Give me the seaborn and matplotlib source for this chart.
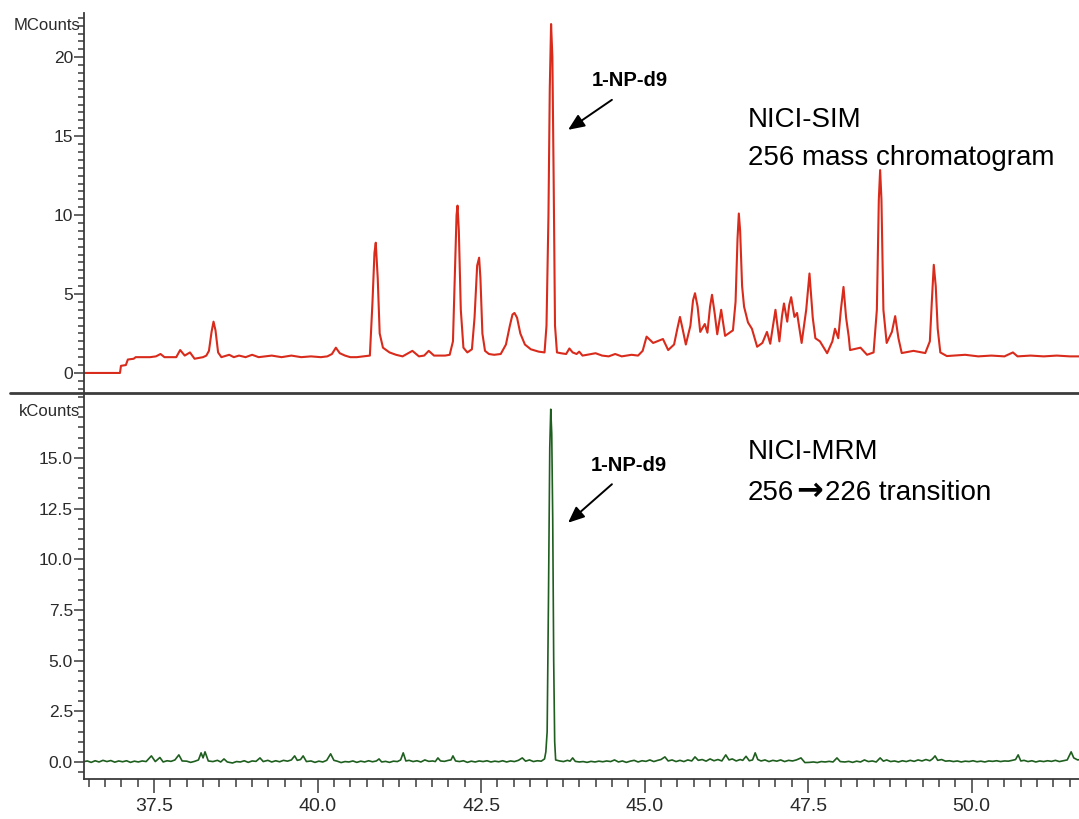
import matplotlib
matplotlib.use("Agg")
import matplotlib.pyplot as plt
from matplotlib.lines import Line2D
from matplotlib.ticker import MultipleLocator, FormatStrFormatter
import pandas as pd
import seaborn as sns

# NICI-SIM, m/z 256 mass chromatogram (retention time in min, signal in MCounts)
sim_time = [
    36.40, 36.98, 36.995, 37.07, 37.10, 37.19, 37.22, 37.44, 37.53, 37.60, 37.66, 37.84,
    37.90, 37.97, 38.05, 38.12, 38.25, 38.30, 38.34, 38.38, 38.41, 38.44, 38.48, 38.53,
    38.65, 38.72, 38.80, 38.90, 39.00, 39.10, 39.30, 39.45, 39.60, 39.75, 39.90, 40.05,
    40.15, 40.22, 40.28, 40.34, 40.42, 40.50, 40.60, 40.80, 40.84, 40.87, 40.89, 40.92,
    40.95, 41.00, 41.10, 41.20, 41.30, 41.45, 41.55, 41.63, 41.70, 41.78, 41.95, 42.02,
    42.07, 42.10, 42.125, 42.14, 42.16, 42.19, 42.23, 42.29, 42.36, 42.40, 42.44, 42.47,
    42.49, 42.52, 42.56, 42.62, 42.70, 42.80, 42.88, 42.94, 42.98, 43.01, 43.05, 43.10,
    43.17, 43.26, 43.38, 43.47, 43.50, 43.53, 43.55, 43.57, 43.59, 43.61, 43.63, 43.66,
    43.72, 43.80, 43.85, 43.90, 43.96, 44.00, 44.05, 44.12, 44.25, 44.35, 44.45, 44.55,
    44.65, 44.80, 44.90, 44.97, 45.03, 45.13, 45.28, 45.36, 45.45, 45.50, 45.54, 45.58,
    45.63, 45.70, 45.74, 45.77, 45.81, 45.85, 45.92, 45.96, 46.00, 46.03, 46.07, 46.11,
    46.17, 46.23, 46.35, 46.39, 46.42, 46.44, 46.46, 46.49, 46.52, 46.58, 46.64, 46.72,
    46.80, 46.87, 46.92, 46.97, 47.00, 47.06, 47.10, 47.13, 47.18, 47.21, 47.24, 47.29,
    47.33, 47.40, 47.47, 47.52, 47.57, 47.61, 47.68, 47.79, 47.87, 47.91, 47.96, 48.00,
    48.04, 48.08, 48.12, 48.14, 48.30, 48.40, 48.50, 48.55, 48.58, 48.60, 48.62, 48.65,
    48.70, 48.78, 48.83, 48.88, 48.93, 49.11, 49.29, 49.36, 49.39, 49.42, 49.45, 49.48,
    49.52, 49.62, 49.90, 50.10, 50.30, 50.50, 50.63, 50.70, 50.90, 51.10, 51.30, 51.50,
    51.70,
]
sim_mcounts = [
    0.00, 0.00, 0.45, 0.50, 0.85, 0.90, 1.00, 1.00, 1.05, 1.20, 1.00, 1.00,
    1.45, 1.10, 1.30, 0.90, 1.00, 1.10, 1.40, 2.60, 3.25, 2.70, 1.30, 1.00,
    1.15, 1.00, 1.10, 1.00, 1.15, 1.00, 1.10, 1.00, 1.10, 1.00, 1.05, 1.00,
    1.05, 1.20, 1.60, 1.25, 1.10, 1.00, 1.00, 1.10, 4.50, 7.60, 8.25, 6.00,
    2.50, 1.60, 1.30, 1.15, 1.05, 1.40, 1.05, 1.10, 1.40, 1.10, 1.10, 1.15,
    2.00, 6.50, 10.00, 10.60, 9.00, 4.00, 1.60, 1.30, 1.50, 3.50, 6.80, 7.30,
    6.00, 2.50, 1.40, 1.20, 1.15, 1.20, 1.80, 3.00, 3.70, 3.80, 3.50, 2.50,
    1.80, 1.50, 1.35, 1.30, 3.00, 10.00, 18.00, 22.10, 20.00, 12.00, 3.00, 1.30,
    1.25, 1.20, 1.55, 1.30, 1.20, 1.35, 1.10, 1.15, 1.25, 1.10, 1.05, 1.20,
    1.05, 1.15, 1.10, 1.40, 2.30, 1.90, 2.15, 1.45, 1.80, 2.80, 3.55, 2.80,
    1.80, 3.00, 4.60, 5.05, 4.20, 2.60, 3.10, 2.55, 4.20, 4.95, 3.80, 2.45,
    4.00, 2.35, 2.70, 4.50, 8.50, 10.10, 9.00, 5.50, 4.20, 3.20, 2.80, 1.66,
    1.90, 2.60, 1.85, 3.20, 4.00, 2.00, 3.60, 4.40, 3.25, 4.30, 4.80, 3.55,
    3.80, 1.90, 4.00, 6.30, 3.50, 2.20, 2.00, 1.25, 2.00, 2.80, 2.20, 4.00,
    5.45, 3.50, 2.30, 1.45, 1.60, 1.15, 1.30, 4.00, 11.00, 12.85, 11.00, 4.00,
    1.90, 2.60, 3.60, 2.20, 1.26, 1.40, 1.26, 2.00, 4.50, 6.85, 5.50, 2.80,
    1.30, 1.07, 1.15, 1.05, 1.10, 1.05, 1.30, 1.05, 1.10, 1.05, 1.10, 1.05,
    1.05,
]

# NICI-MRM, 256 -> 226 transition (retention time in min, signal in kCounts)
mrm_time = [
    36.40, 36.48, 36.54, 36.60, 36.66, 36.72, 36.78, 36.84, 36.90, 36.96, 37.02, 37.08,
    37.14, 37.20, 37.26, 37.32, 37.38, 37.46, 37.52, 37.59, 37.64, 37.70, 37.76, 37.82,
    37.88, 37.93, 38.00, 38.06, 38.12, 38.18, 38.22, 38.25, 38.28, 38.33, 38.40, 38.47,
    38.52, 38.57, 38.62, 38.70, 38.76, 38.82, 38.88, 38.94, 39.00, 39.06, 39.12, 39.17,
    39.24, 39.30, 39.36, 39.42, 39.48, 39.54, 39.60, 39.65, 39.69, 39.74, 39.78, 39.83,
    39.90, 39.96, 40.02, 40.08, 40.14, 40.20, 40.25, 40.30, 40.36, 40.42, 40.48, 40.54,
    40.60, 40.66, 40.72, 40.78, 40.84, 40.90, 40.94, 40.98, 41.04, 41.10, 41.16, 41.22,
    41.27, 41.31, 41.35, 41.40, 41.46, 41.52, 41.58, 41.64, 41.70, 41.76, 41.80, 41.84,
    41.88, 41.94, 42.00, 42.04, 42.07, 42.11, 42.17, 42.23, 42.29, 42.35, 42.41, 42.47,
    42.53, 42.59, 42.65, 42.71, 42.77, 42.83, 42.89, 42.95, 43.01, 43.07, 43.13, 43.18,
    43.24, 43.30, 43.36, 43.42, 43.47, 43.49, 43.51, 43.53, 43.55, 43.565, 43.58, 43.595,
    43.61, 43.625, 43.64, 43.70, 43.76, 43.82, 43.86, 43.90, 43.94, 44.00, 44.06, 44.12,
    44.18, 44.24, 44.30, 44.36, 44.42, 44.48, 44.54, 44.60, 44.66, 44.72, 44.78, 44.84,
    44.90, 44.96, 45.02, 45.08, 45.14, 45.20, 45.25, 45.31, 45.36, 45.42, 45.48, 45.54,
    45.60, 45.66, 45.72, 45.77, 45.82, 45.88, 45.94, 46.00, 46.06, 46.12, 46.18, 46.24,
    46.29, 46.34, 46.40, 46.46, 46.50, 46.55, 46.60, 46.65, 46.69, 46.73, 46.78, 46.84,
    46.90, 46.96, 47.02, 47.08, 47.14, 47.20, 47.26, 47.32, 47.39, 47.45, 47.52, 47.58,
    47.64, 47.70, 47.76, 47.82, 47.88, 47.94, 47.99, 48.06, 48.12, 48.18, 48.24, 48.30,
    48.36, 48.42, 48.48, 48.54, 48.60, 48.65, 48.70, 48.76, 48.82, 48.88, 48.94, 49.00,
    49.06, 49.12, 49.18, 49.24, 49.30, 49.36, 49.40, 49.44, 49.48, 49.54, 49.60, 49.66,
    49.72, 49.78, 49.84, 49.90, 49.96, 50.02, 50.08, 50.14, 50.20, 50.26, 50.32, 50.38,
    50.44, 50.50, 50.56, 50.62, 50.67, 50.71, 50.75, 50.80, 50.86, 50.92, 50.98, 51.04,
    51.10, 51.16, 51.22, 51.28, 51.34, 51.40, 51.46, 51.52, 51.56, 51.62, 51.70,
]
mrm_kcounts = [
    0.00, 0.05, -0.02, 0.06, 0.00, 0.08, 0.02, 0.07, -0.01, 0.05, 0.01, 0.06,
    -0.02, 0.04, 0.00, 0.05, 0.02, 0.30, 0.02, 0.22, 0.00, 0.06, 0.03, 0.10,
    0.35, 0.05, 0.04, -0.02, 0.03, 0.10, 0.45, 0.20, 0.50, 0.05, 0.02, 0.08,
    0.00, 0.15, 0.00, -0.05, 0.02, 0.00, 0.06, -0.02, 0.05, 0.03, 0.20, 0.02,
    0.08, 0.00, 0.06, 0.01, 0.08, 0.04, 0.10, 0.30, 0.08, 0.12, 0.30, 0.02,
    0.05, -0.02, 0.04, 0.00, 0.08, 0.40, 0.08, 0.04, -0.03, 0.02, 0.00, 0.05,
    -0.02, 0.04, 0.00, 0.06, 0.01, 0.05, 0.15, 0.00, 0.03, -0.02, 0.04, 0.02,
    0.10, 0.45, 0.05, 0.08, 0.02, 0.06, 0.00, 0.10, 0.03, 0.05, 0.02, 0.20,
    0.05, 0.03, 0.08, 0.10, 0.30, 0.05, 0.02, 0.06, -0.02, 0.04, 0.00, 0.05,
    0.02, 0.06, 0.00, 0.04, 0.01, 0.06, 0.00, 0.05, 0.02, 0.08, 0.20, 0.04,
    0.10, 0.02, 0.06, 0.04, 0.15, 0.50, 1.50, 8.00, 15.50, 17.40, 16.20, 12.00,
    5.00, 1.00, 0.10, 0.05, 0.02, 0.08, 0.04, 0.20, 0.03, 0.00, 0.02, -0.02,
    0.03, 0.00, 0.04, 0.01, 0.05, 0.02, 0.10, 0.00, 0.05, -0.02, 0.04, 0.08,
    0.00, 0.06, 0.03, 0.10, 0.02, 0.08, 0.12, 0.25, 0.05, 0.10, 0.02, 0.08,
    0.02, 0.10, 0.05, 0.25, 0.08, 0.12, 0.04, 0.15, 0.06, 0.12, 0.05, 0.35,
    0.10, 0.15, 0.05, 0.12, 0.08, 0.28, 0.06, 0.10, 0.45, 0.12, 0.05, 0.10,
    0.02, 0.08, 0.04, 0.10, 0.02, 0.08, 0.05, 0.10, 0.20, -0.03, -0.02, 0.00,
    -0.03, 0.02, 0.00, 0.03, 0.00, 0.20, 0.02, 0.00, 0.03, -0.02, 0.04, 0.00,
    0.10, 0.02, 0.05, 0.00, 0.20, 0.04, 0.10, 0.02, 0.05, 0.00, 0.06, 0.02,
    0.08, 0.03, 0.10, 0.05, 0.12, 0.06, 0.15, 0.30, 0.08, 0.12, 0.04, 0.06,
    0.02, 0.05, 0.00, 0.04, 0.02, 0.06, 0.01, 0.04, 0.00, 0.05, 0.03, 0.06,
    0.02, 0.05, 0.04, 0.08, 0.12, 0.35, 0.05, 0.08, 0.02, 0.06, 0.00, 0.05,
    0.02, 0.06, 0.03, 0.08, 0.02, 0.06, 0.10, 0.50, 0.20, 0.10, 0.15,
]

compound_label = "1-NP-d9"
sim_title = ["NICI-SIM", "256 mass chromatogram"]
mrm_title = ["NICI-MRM", ["256", "\u2192", "226 transition"]]
sim_yticks = [0, 5, 10, 15, 20]
mrm_yticks = [0.0, 2.5, 5.0, 7.5, 10.0, 12.5, 15.0]

sim_df = pd.DataFrame({"time": sim_time, "signal": sim_mcounts})
mrm_df = pd.DataFrame({"time": mrm_time, "signal": mrm_kcounts})

sns.set_theme(style="ticks")
plt.rcParams["font.family"] = ["Liberation Sans", "DejaVu Sans"]
tick_family = ["Liberation Sans Narrow", "Liberation Sans", "DejaVu Sans"]

W, H = 1079, 819
fig = plt.figure(figsize=(W / 100, H / 100), dpi=100, facecolor="white")
ax_top = fig.add_axes([84 / W, 1 - 393 / H, 995 / W, 380 / H])
ax_bot = fig.add_axes([84 / W, 1 - 779 / H, 995 / W, 386 / H])

sns.lineplot(data=sim_df, x="time", y="signal", ax=ax_top, estimator=None,
             sort=False, color="#d82b1c", linewidth=1.5)
sns.lineplot(data=mrm_df, x="time", y="signal", ax=ax_bot, estimator=None,
             sort=False, color="#1e5e1e", linewidth=1.2)

xlim = (36.43, 51.64)
spine_col = "#3a3a3a"
for ax in (ax_top, ax_bot):
    ax.set_facecolor("white")
    ax.set_xlabel("")
    ax.set_ylabel("")
    for side in ("top", "right"):
        ax.spines[side].set_visible(False)
    ax.spines["left"].set_color(spine_col)
    ax.spines["left"].set_linewidth(1.3)
    ax.yaxis.set_minor_locator(MultipleLocator(0.5))
    ax.tick_params(axis="y", which="major", direction="out", length=7, width=1.1,
                   color=spine_col, labelcolor="#2a2a2a", labelsize=12.5, pad=1,
                   labelfontfamily=tick_family)
    ax.tick_params(axis="y", which="minor", direction="out", length=4, width=1.1,
                   color=spine_col)

# upper panel: MCounts
ax_top.set_yticks(sim_yticks)
ax_top.yaxis.set_major_formatter(FormatStrFormatter("%d"))
ax_top.set_ylim(-1.27, 22.8)
ax_top.spines["bottom"].set_visible(False)
ax_top.tick_params(axis="x", which="both", bottom=False, labelbottom=False)

# lower panel: kCounts
ax_bot.set_yticks(mrm_yticks)
ax_bot.yaxis.set_major_formatter(FormatStrFormatter("%.1f"))
ax_bot.set_ylim(-0.84, 18.2)
ax_bot.spines["bottom"].set_color(spine_col)
ax_bot.spines["bottom"].set_linewidth(1.3)
ax_bot.xaxis.set_major_locator(MultipleLocator(2.5))
ax_bot.xaxis.set_minor_locator(MultipleLocator(0.25))
ax_bot.xaxis.set_major_formatter(FormatStrFormatter("%.1f"))
ax_bot.tick_params(axis="x", which="major", direction="out", length=10, width=1.1,
                   color=spine_col, labelcolor="#2a2a2a", labelsize=14, pad=4,
                   labelfontfamily=tick_family)
ax_bot.tick_params(axis="x", which="minor", direction="out", length=6, width=1.1,
                   color=spine_col)
for ax in (ax_top, ax_bot):
    ax.set_xlim(*xlim)

# unit labels at the head of each intensity axis
ax_top.text(-0.004, (393 - 26) / 380, "MCounts", transform=ax_top.transAxes,
            ha="right", va="center", fontsize=12, color="#2a2a2a", family=tick_family)
ax_bot.text(-0.004, (779 - 412) / 386, "kCounts", transform=ax_bot.transAxes,
            ha="right", va="center", fontsize=12, color="#2a2a2a", family=tick_family)

# divider between the two traces
fig.add_artist(Line2D([10 / W, 1.0], [1 - 393 / H, 1 - 393 / H],
                      transform=fig.transFigure, color="#3c3c3c", linewidth=2))

arrow_kw = dict(arrowstyle="-|>,head_length=0.7,head_width=0.3", color="black",
                lw=1.4, mutation_scale=14, shrinkA=0, shrinkB=0)

# compound callouts
ax_top.text(44.78, 18.5, compound_label, ha="center", va="center",
            fontsize=14.5, fontweight="bold", color="black")
ax_top.annotate("", xy=(43.83, 15.4), xytext=(44.50, 17.3), arrowprops=arrow_kw)
ax_bot.text(44.76, 14.6, compound_label, ha="center", va="center",
            fontsize=14.5, fontweight="bold", color="black")
ax_bot.annotate("", xy=(43.83, 11.8), xytext=(44.50, 13.7), arrowprops=arrow_kw)

# acquisition mode descriptions
ax_top.text(46.58, 15.57, sim_title[0], ha="left", va="baseline", fontsize=20, color="black")
ax_top.text(46.58, 13.16, sim_title[1], ha="left", va="baseline", fontsize=20, color="black")
ax_bot.text(46.58, 14.95, mrm_title[0], ha="left", va="baseline", fontsize=20, color="black")

# transition line: the arrow glyph is set in a heavier face than the digits
first, arrow, rest = mrm_title[1]
t0 = ax_bot.text(46.58, 12.93, first, ha="left", va="baseline", fontsize=20, color="black")
descent_pt = 0.212 * 20
t1 = ax_bot.annotate(arrow, xy=(1, 0), xycoords=t0, xytext=(1.5, descent_pt),
                     textcoords="offset points", ha="left", va="baseline",
                     fontsize=23, fontweight="bold", family=["DejaVu Sans"], color="black")
ax_bot.annotate(rest, xy=(1, 0), xycoords=(t1, t0), xytext=(1.5, 0),
                textcoords="offset points", ha="left", va="bottom",
                fontsize=20, color="black")

fig.savefig("out.png", dpi=100, facecolor="white")
